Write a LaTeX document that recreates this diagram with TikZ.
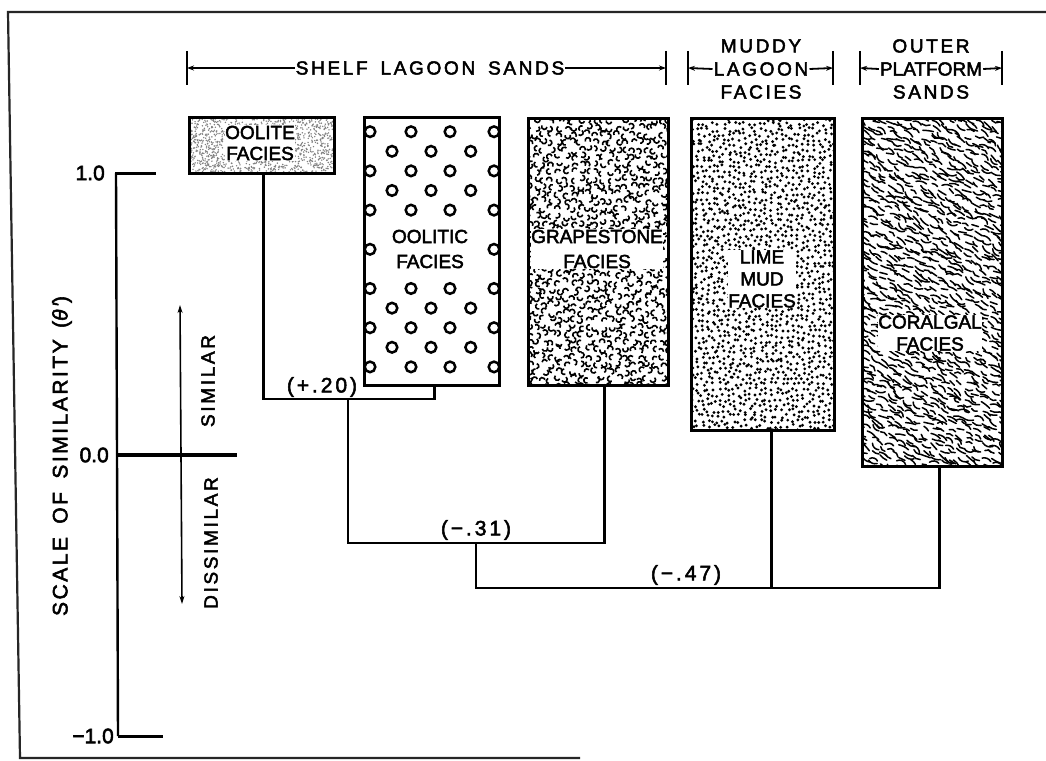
\documentclass[tikz,border=0pt]{standalone}
\usepackage{fontspec}
\setmainfont{Liberation Sans}[FakeBold=2]
\newfontfamily\plainfont[FakeBold=2.5]{Liberation Sans}
\newfontfamily\widefont[LetterSpace=14,FakeBold=2.5]{Liberation Sans}
\newfontfamily\titlefont[LetterSpace=12,FakeBold=2.5]{Liberation Sans}
\usetikzlibrary{arrows.meta}
\begin{document}
\begin{tikzpicture}[x=1pt,y=-1pt]
\tikzset{
  boxline/.style={draw, line width=2.8pt, inner sep=0pt, anchor=north west},
  conn/.style={line width=2.2pt},
  boxtext/.style={font=\fontsize{19}{23}\selectfont\plainfont, align=center, inner sep=0.6pt},
  patlabel/.style={boxtext, fill=white},
  hdrtext/.style={font=\fontsize{19}{23}\selectfont\widefont, align=center, inner sep=1pt},
  hdrarrow/.style={line width=1.8pt, -{Stealth[length=7pt,width=5pt]}},
  hdrtick/.style={line width=2.2pt},
  tickmark/.style={line width=3pt},
  vallabel/.style={font=\fontsize{21}{22}\selectfont\plainfont, inner sep=1pt},
  coeff/.style={font=\fontsize{21}{22}\selectfont\widefont, inner sep=1pt},
  sidelabel/.style={font=\fontsize{19}{22}\selectfont\widefont, rotate=90, inner sep=1pt},
  frame/.style={line width=2.2pt, black!85},
}
\useasboundingbox (0,0) rectangle (1046,760);
\fill[white] (0,0) rectangle (1046,760);
\pgfmathsetseed{4242}

% frame
\draw[frame] (1046,12) -- (8,12) -- (20,758) -- (580,758);

% ---------- patterns ----------
% oolite stipple
\begin{scope}
\clip (188,116) rectangle (333,172);
\foreach \k in {1,...,1300}{
  \pgfmathsetmacro\px{188+rnd*145}
  \pgfmathsetmacro\py{116+rnd*56}
  \fill[black!50] (\px,\py) circle[radius=0.8];
}
\end{scope}
% oolitic circles
\foreach \r in {0,...,12}{
  \pgfmathsetmacro\yy{131.7+\r*19.6}
  \ifodd\r
    \ifnum\r=5 \else\ifnum\r=7 \else
      \foreach \xx in {392,431,470.7}{\draw[line width=2.5pt] (\xx,\yy) circle[radius=5.3];}
    \fi\fi
  \else
    \ifnum\r=6
      \foreach \xx in {370,494}{\draw[line width=2.5pt] (\xx,\yy) circle[radius=5.3];}
    \else
      \foreach \xx in {370,411,450,494}{\draw[line width=2.5pt] (\xx,\yy) circle[radius=5.3];}
    \fi
  \fi
}
% grapestone curls
\begin{scope}
\clip (527,117) rectangle (667,384);
\foreach \i in {0,...,19}{
  \foreach \j in {0,...,36}{
    \pgfmathsetmacro\px{529+\i*7.4+rand*2.2}
    \pgfmathsetmacro\py{120+\j*7.4+rand*2.2}
    \pgfmathsetmacro\ang{rnd*360}
    \pgfmathsetmacro\del{150+rnd*90}
    \draw[line width=1.6pt] (\px,\py) ++(\ang:2.7) arc[start angle=\ang, delta angle=\del, radius=2.7];
  }
}
\end{scope}
% lime mud dots
\begin{scope}
\clip (690,117) rectangle (833,429);
\foreach \i in {0,...,27}{
  \foreach \j in {0,...,60}{
    \pgfmathsetmacro\px{692+\i*5.3+rand*2.1}
    \pgfmathsetmacro\py{119+\j*5.3+rand*2.1}
    \fill (\px,\py) circle[radius=1.6];
  }
}
\end{scope}
% coralgal wavy strokes
\begin{scope}
\clip (861,117) rectangle (1001,465);
\foreach \i in {0,...,17}{
  \foreach \j in {0,...,62}{
    \pgfmathsetmacro\px{853+\i*8.6+rand*3}
    \pgfmathsetmacro\py{114+\j*5.8+rand*2.5}
    \pgfmathsetmacro\ang{28+rand*22}
    \pgfmathsetmacro\len{6+rnd*5}
    \pgfmathsetmacro\bb{rand*50}
    \draw[line width=1.5pt, line cap=round] (\px,\py) to[bend left=\bb] ++(\ang:\len);
  }
}
\end{scope}

% ---------- boxes ----------
\node[boxline, minimum width=145pt, minimum height=56pt] (oolite) at (188,116) {};
\node[boxline, minimum width=135pt, minimum height=268pt] (oolitic) at (363,116) {};
\node[boxline, minimum width=140pt, minimum height=267pt] (grape) at (527,117) {};
\node[boxline, minimum width=143pt, minimum height=312pt] (lime) at (690,117) {};
\node[boxline, minimum width=140pt, minimum height=348pt] (coral) at (861,117) {};

\node[patlabel, font=\fontsize{19}{21}\selectfont\plainfont] (tOolite) at (260,143) {OOLITE\\FACIES};
\node[boxtext, font=\fontsize{19}{25}\selectfont\plainfont] (tOolitic) at (430,249) {OOLITIC\\FACIES};
\node[patlabel, font=\fontsize{19}{25}\selectfont\plainfont] (tGrape) at (597,249) {GRAPESTONE\\FACIES};
\node[patlabel, font=\fontsize{19}{22}\selectfont\plainfont] (tLime) at (762,279) {LIME\\MUD\\FACIES};
\node[patlabel, font=\fontsize{19}{22}\selectfont\plainfont] (tCoral) at (930,333) {CORALGAL\\FACIES};

% ---------- header ----------
\node[hdrtext] (shelf) at (430,68) {SHELF\hspace{5pt} LAGOON\hspace{5pt} SANDS};
\coordinate (shL) at (187,68);
\coordinate (shR) at (666,68);
\draw[hdrtick] (187,51) -- (187,85);
\draw[hdrtick] (666,51) -- (666,85);
\draw[hdrarrow] (shelf.west) -- (shL);
\draw[hdrarrow] (shelf.east) -- (shR);

\node[hdrtext] (muddyT) at (761,46) {MUDDY};
\node[hdrtext] (muddy) at (761,69) {LAGOON};
\node[hdrtext] (muddyB) at (761,92) {FACIES};
\coordinate (muL) at (688,68);
\coordinate (muR) at (833,68);
\draw[hdrtick] (688,51) -- (688,85);
\draw[hdrtick] (833,51) -- (833,85);
\draw[hdrarrow] (muddy.west) -- (muL);
\draw[hdrarrow] (muddy.east) -- (muR);

\node[hdrtext] (outerT) at (931,46) {OUTER};
\node[hdrtext, font=\fontsize{19}{23}\selectfont\plainfont] (outer) at (931,69) {PLATFORM};
\node[hdrtext] (outerB) at (931,92) {SANDS};
\coordinate (ouL) at (860,68);
\coordinate (ouR) at (1002,68);
\draw[hdrtick] (860,51) -- (860,85);
\draw[hdrtick] (1002,51) -- (1002,85);
\draw[hdrarrow] (outer.west) -- (ouL);
\draw[hdrarrow] (outer.east) -- (ouR);

% ---------- axis ----------
\coordinate (axTop) at (116,173);
\coordinate (axZero) at (117,455);
\coordinate (axBot) at (118,736);
\draw[line width=2.4pt] (axTop) -- (axBot);
\draw[tickmark] (115,173) -- (156,173);
\draw[line width=3.8pt] (118,455) -- (237,455);
\draw[tickmark] (118,736) -- (163,736);
\node[vallabel, anchor=east] (v1) at (106,173) {1.0};
\node[vallabel, anchor=east] (v0) at (110,455) {0.0};
\node[vallabel, anchor=east] (vm1) at (115,736) {−1.0};

\node[rotate=90, font=\fontsize{21}{24}\selectfont\titlefont, inner sep=1pt] (title) at (62,456) {SCALE\hspace{5pt} OF\hspace{5pt} SIMILARITY\hspace{3pt} ({\itshape θ′})};

\coordinate (simTip) at (180,305);
\coordinate (disTip) at (182,604);
\draw[line width=1.6pt, -{Stealth[length=8pt,width=5pt]}] (181,455) -- (simTip);
\draw[line width=1.6pt, -{Stealth[length=8pt,width=5pt]}] (181,455) -- (disTip);
\node[sidelabel] (sim) at (208,381) {SIMILAR};
\node[sidelabel] (dis) at (211,543) {DISSIMILAR};

% ---------- dendrogram ----------
\coordinate (s1) at ([xshift=1.5pt]oolite.south);
\coordinate (s2) at ([xshift=2.5pt]oolitic.south);
\coordinate (s3) at ([xshift=6pt]grape.south);
\coordinate (s4) at ([xshift=8.5pt]lime.south);
\coordinate (s5) at ([xshift=7pt]coral.south);
\coordinate (m1) at (348,399);
\coordinate (m2) at (476,543);
\coordinate (lev3) at (0,588);

\draw[conn] (s1) -- (s1 |- m1) -- (s2 |- m1) -- (s2);
\draw[conn] (m1) -- (m1 |- m2) -- (s3 |- m2) -- (s3);
\draw[conn] (m2) -- (m2 |- lev3) -- (s5 |- lev3) -- (s5);
\draw[conn] (s4) -- (s4 |- lev3);

\node[coeff] (c1) at (322,387) {(+.20)};
\node[coeff] (c2) at (476,530) {(−.31)};
\node[coeff] (c3) at (686,575) {(−.47)};
\end{tikzpicture}
\end{document}
